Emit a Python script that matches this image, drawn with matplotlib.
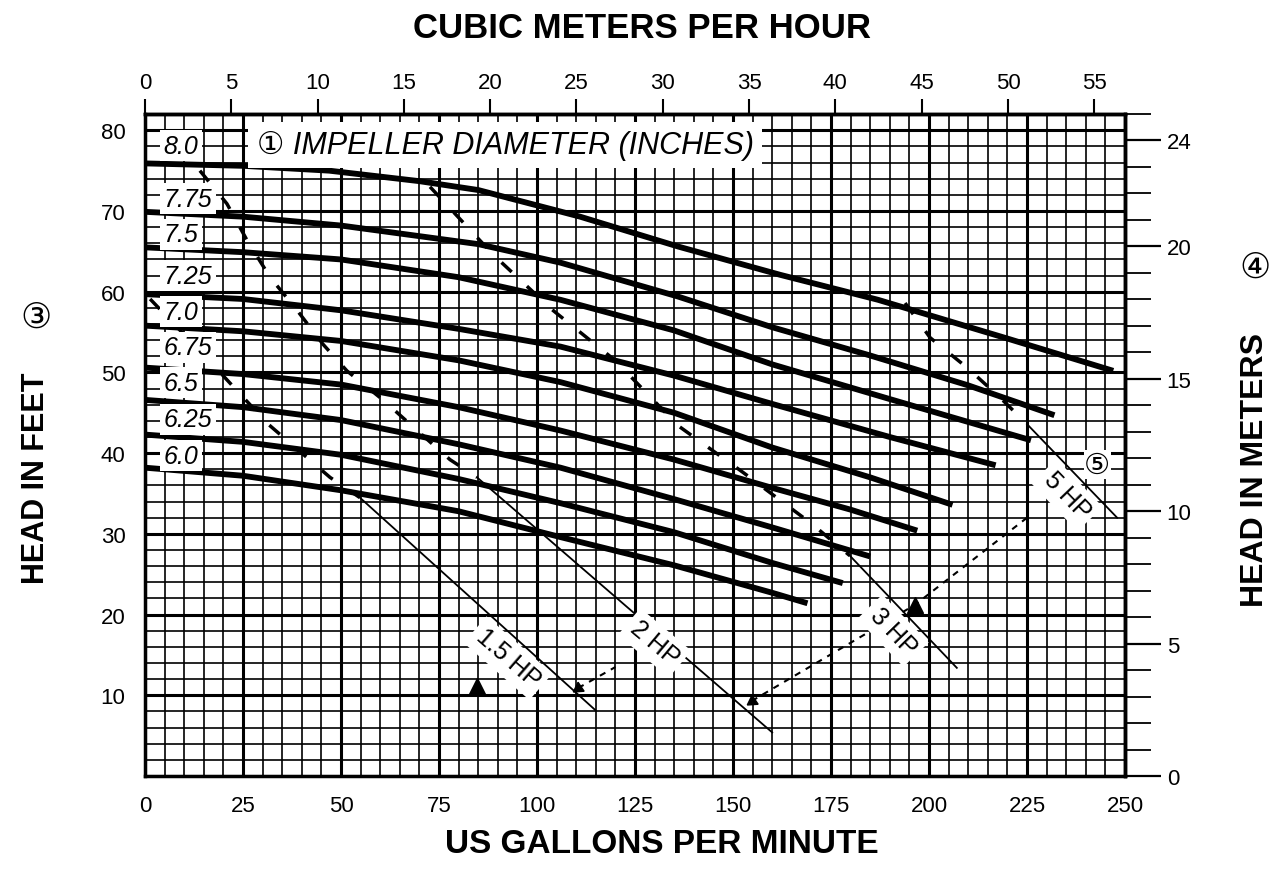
import numpy as np
import matplotlib.pyplot as plt
from matplotlib.ticker import MultipleLocator

plt.rcParams['font.family'] = ['Liberation Sans', 'DejaVu Sans']

GPM_PER_M3H = 4.402868
FT_PER_M = 3.28084

# impeller curves (US gpm, head in ft)
d80_gpm = [0, 25, 47, 70, 85, 111, 136, 162, 187, 220, 247]
d80_ft = [75.9, 75.6, 75.0, 73.7, 72.6, 69.3, 65.6, 62.1, 59.0, 54.2, 50.2]
d775_gpm = [0, 25, 50, 85, 106, 136, 160, 185, 210, 232]
d775_ft = [69.9, 69.3, 68.2, 65.9, 63.6, 59.4, 55.6, 52.1, 48.4, 44.7]
d75_gpm = [0, 25, 50, 80, 106, 135, 160, 190, 226]
d75_ft = [65.5, 64.9, 64.0, 61.8, 59.0, 55.2, 51.0, 46.7, 41.6]
d725_gpm = [0, 25, 50, 80, 106, 135, 160, 190, 217]
d725_ft = [59.7, 59.1, 57.7, 55.4, 53.2, 49.6, 46.1, 42.0, 38.5]
d70_gpm = [0, 25, 50, 80, 106, 135, 160, 185, 206]
d70_ft = [55.8, 55.1, 53.9, 51.5, 48.8, 45.0, 40.7, 37.0, 33.6]
d675_gpm = [0, 25, 50, 80, 106, 135, 160, 180, 197]
d675_ft = [50.6, 49.8, 48.5, 45.7, 42.8, 39.2, 35.7, 33.0, 30.4]
d65_gpm = [0, 25, 50, 80, 106, 135, 160, 185]
d65_ft = [46.6, 45.7, 44.1, 41.1, 38.2, 34.3, 30.8, 27.2]
d625_gpm = [0, 25, 50, 80, 106, 135, 160, 178]
d625_ft = [42.3, 41.4, 39.8, 36.8, 33.8, 30.2, 26.4, 23.9]
d60_gpm = [0, 25, 50, 80, 106, 135, 160, 169]
d60_ft = [38.2, 37.2, 35.4, 32.8, 29.6, 26.1, 22.7, 21.4]

diam_labels = ['8.0', '7.75', '7.5', '7.25', '7.0', '6.75', '6.5', '6.25', '6.0']
diam_label_ft = [78.1, 71.5, 67.1, 62.0, 57.5, 53.1, 48.7, 44.2, 39.7]

# motor power limits: dashed through the curves, thin line below them
hp15_dash_gpm = [1.3, 16.1, 31.4, 47.2, 54.8]
hp15_dash_ft = [59.1, 51.6, 43.6, 37.0, 34.5]
hp15_gpm = [54.8, 114.8]
hp15_ft = [34.5, 8.2]
hp2_dash_gpm = [14, 20.9, 26, 31.9, 38.8, 45.4, 51.5, 60.7, 67.6, 77.8, 84.7]
hp2_dash_ft = [75.0, 70.9, 66.4, 61.8, 57.7, 53.5, 50.2, 46.6, 43.6, 39.2, 37.0]
hp2_gpm = [84.7, 160]
hp2_ft = [37.0, 5.4]
hp3_dash_gpm = [72.7, 88.8, 103.8, 119.9, 136, 152.6, 170.2, 179.8]
hp3_dash_ft = [73.0, 64.6, 57.8, 51.5, 43.4, 37.6, 31.2, 27.3]
hp3_gpm = [179.8, 207.1]
hp3_ft = [27.3, 13.4]
hp5_dash_gpm = [193.9, 200.3, 209.7, 218.1, 225]
hp5_dash_ft = [58.6, 54.3, 50.6, 46.9, 43.6]
hp5_gpm = [225, 248]
hp5_ft = [43.6, 32.0]

hp_labels = ['1.5 HP', '2 HP', '3 HP', '5 HP']
hp_label_gpm = [92.6, 130.0, 190.8, 235.2]
hp_label_ft = [14.6, 16.5, 18.0, 34.8]
hp_label_rot = [-41, -40, -46, -46]

# side dashed lines and markers
side_gpm = [154.8, 196.4, 225]
side_ft = [9.3, 21.2, 32.0]
side2_gpm = [110.5, 120.0]
side2_ft = [10.9, 13.5]
tri_gpm = [84.7, 196.4]
tri_ft = [11.2, 21.2]
arrow_gpm = [110.5, 154.8]
arrow_ft = [10.9, 9.3]

fig = plt.figure(figsize=(12.79, 8.78), dpi=100)
ax = fig.add_axes([145 / 1279, 101 / 878, 980 / 1279, 662 / 878])
ax.set_xlim(0, 250)
ax.set_ylim(0, 25 * FT_PER_M)

ax.xaxis.set_major_locator(MultipleLocator(25))
ax.xaxis.set_minor_locator(MultipleLocator(5))
ax.set_yticks(np.arange(0, 81, 10))
ax.set_yticklabels([''] + [str(v) for v in range(10, 81, 10)])
ax.yaxis.set_minor_locator(MultipleLocator(2))
ax.grid(which='major', color='black', lw=2.2)
ax.grid(which='minor', color='black', lw=1.2)
ax.set_axisbelow(True)
ax.tick_params(which='both', length=0)
ax.tick_params(axis='both', labelsize=16, pad=14)
for s in ax.spines.values():
    s.set_linewidth(2.5)

# pump curves
curves = [(d80_gpm, d80_ft), (d775_gpm, d775_ft), (d75_gpm, d75_ft),
          (d725_gpm, d725_ft), (d70_gpm, d70_ft), (d675_gpm, d675_ft),
          (d65_gpm, d65_ft), (d625_gpm, d625_ft), (d60_gpm, d60_ft)]
for g, h in curves:
    ax.plot(g, h, color='black', lw=4.2, solid_capstyle='butt', zorder=4)

for lab, yy in zip(diam_labels, diam_label_ft):
    ax.text(4.8, yy, lab, fontsize=18, style='italic', ha='left', va='center',
            zorder=6, bbox=dict(facecolor='white', edgecolor='none', pad=2.5))

ax.text(28.5, 78.2, '\u2460 IMPELLER DIAMETER (INCHES)', fontsize=22, style='italic',
        ha='left', va='center', zorder=6,
        bbox=dict(facecolor='white', edgecolor='none', pad=6))

# horsepower lines
dash = (0, (4, 6))
for g, h in [(hp15_dash_gpm, hp15_dash_ft), (hp2_dash_gpm, hp2_dash_ft),
             (hp3_dash_gpm, hp3_dash_ft), (hp5_dash_gpm, hp5_dash_ft)]:
    ax.plot(g, h, color='black', lw=2.5, ls=dash, zorder=5)
for g, h in [(hp15_gpm, hp15_ft), (hp2_gpm, hp2_ft), (hp3_gpm, hp3_ft), (hp5_gpm, hp5_ft)]:
    ax.plot(g, h, color='black', lw=1.3, zorder=5)

for lab, x, y, r in zip(hp_labels, hp_label_gpm, hp_label_ft, hp_label_rot):
    ax.text(x, y, lab, fontsize=18, rotation=r, ha='center', va='center',
            rotation_mode='anchor', zorder=6,
            bbox=dict(facecolor='white', edgecolor='none', pad=4))
ax.text(242.9, 38.6, '\u2464', fontsize=21, ha='center', va='center', zorder=7,
        bbox=dict(facecolor='white', edgecolor='none', pad=0.5))

ax.plot(side_gpm, side_ft, color='black', lw=1.5, ls=(0, (3, 3)), zorder=5)
ax.plot(side2_gpm, side2_ft, color='black', lw=1.5, ls=(0, (3, 3)), zorder=5)
ax.plot(tri_gpm, tri_ft, ls='none', marker='^', ms=11, color='black', zorder=6)
ax.plot(arrow_gpm, arrow_ft, ls='none', marker=(3, 0, 124), ms=9, color='black', zorder=6)

# secondary scales
top = ax.secondary_xaxis('top', functions=(lambda g: g / GPM_PER_M3H, lambda m: m * GPM_PER_M3H))
top.set_xticks(np.arange(0, 56, 5))
top.tick_params(direction='out', length=11, width=1.5, labelsize=16, pad=4)
top.spines['top'].set_linewidth(2.5)

right = ax.secondary_yaxis('right', functions=(lambda f: f / FT_PER_M, lambda m: m * FT_PER_M))
right.set_yticks([0, 5, 10, 15, 20, 24])
right.set_yticks(np.arange(0, 26, 1), minor=True)
right.tick_params(which='major', direction='out', length=26, width=1.6, labelsize=16, pad=4)
right.tick_params(which='minor', direction='out', length=19, width=1.3)
right.spines['right'].set_linewidth(2.5)

fig.text(642 / 1279, 1 - 28 / 878, 'CUBIC METERS PER HOUR', ha='center', va='center',
         fontsize=25, fontweight='bold')
fig.text(662 / 1279, 1 - 845 / 878, 'US GALLONS PER MINUTE', ha='center', va='center',
         fontsize=24, fontweight='bold')
fig.text(36 / 1279, 1 - 478 / 878, 'HEAD IN FEET', rotation=90, ha='center', va='center',
         fontsize=22, fontweight='bold')
fig.text(36 / 1279, 1 - 318 / 878, '\u2462', ha='center', va='center', fontsize=25)
fig.text(1255 / 1279, 1 - 470 / 878, 'HEAD IN METERS', rotation=90, ha='center', va='center',
         fontsize=23, fontweight='bold')
fig.text(1255 / 1279, 1 - 268 / 878, '\u2463', ha='center', va='center', fontsize=25)

fig.savefig('out.png', dpi=100)
